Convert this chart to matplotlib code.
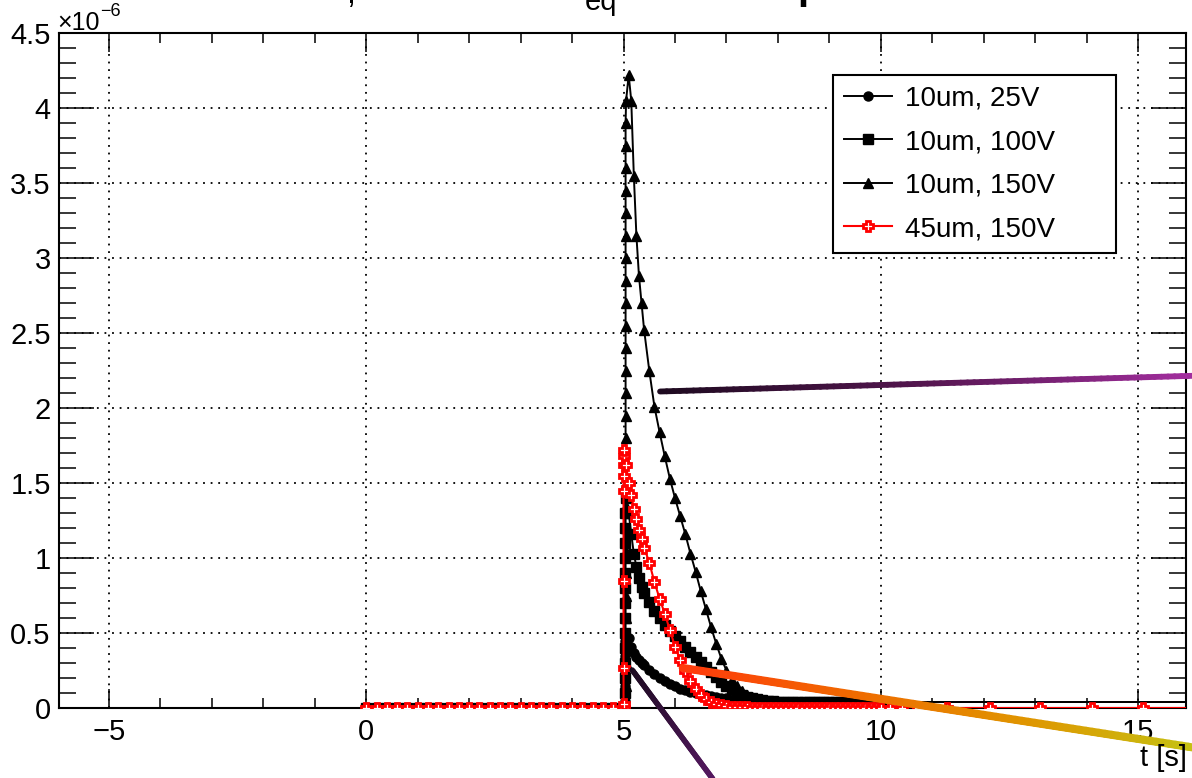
import numpy as np
import matplotlib
matplotlib.use('Agg')
import matplotlib.pyplot as plt
from matplotlib.collections import LineCollection
from matplotlib.colors import LinearSegmentedColormap
from matplotlib.ticker import MultipleLocator, FuncFormatter

plt.rcParams['font.family'] = ['Liberation Sans', 'DejaVu Sans']

# ---- data (current in units of 1e-6) ----
labels = ['10um, 25V', '10um, 100V', '10um, 150V', '45um, 150V']

# before the pulse: all series sit at zero
t_pre = [0.0, 0.2, 0.4, 0.6, 0.8, 1.0, 1.2, 1.4, 1.6, 1.8, 2.0, 2.2, 2.4,
         2.6, 2.8, 3.0, 3.2, 3.4, 3.6, 3.8, 4.0, 4.2, 4.4, 4.6, 4.8, 5.0]

# rising edge (points stacked at the switch-on time)
rise_t = [5.02, 5.02, 5.04, 5.0]
rise_25 = [0.05, 0.1, 0.15, 0.2, 0.25, 0.3, 0.35, 0.4, 0.45]
rise_100 = [0.1, 0.2, 0.3, 0.4, 0.5, 0.6, 0.7, 0.8, 0.9, 1.0, 1.1, 1.2, 1.3]
rise_150 = [0.15, 0.3, 0.45, 0.6, 0.75, 0.9, 1.05, 1.2, 1.35, 1.5, 1.65, 1.8,
            1.95, 2.1, 2.25, 2.4, 2.55, 2.7, 2.85, 3.0, 3.15, 3.3, 3.45, 3.6,
            3.75, 3.9]
rise_45 = [0.03, 0.27, 0.85, 1.45, 1.55, 1.62, 1.68, 1.72]

# decay after the pulse
t_dec = [5.05, 5.1, 5.15, 5.2, 5.25, 5.3, 5.35, 5.4, 5.5, 5.6, 5.7, 5.8, 5.9,
         6.0, 6.1, 6.2, 6.3, 6.4, 6.5, 6.6, 6.7, 6.8, 6.9, 7.0, 7.1, 7.2, 7.3,
         7.4, 7.5, 7.6, 7.7, 7.8, 7.9, 8.0,
         8.1, 8.2, 8.3, 8.4, 8.5, 8.6, 8.7, 8.8, 8.9, 9.0, 9.1, 9.2, 9.3, 9.4,
         9.5, 9.6, 9.7, 9.8, 9.9, 10.0]
dec_25 = [0.46, 0.47, 0.41, 0.37, 0.34, 0.32, 0.30, 0.285, 0.255, 0.225, 0.20,
          0.18, 0.16, 0.145, 0.13, 0.118, 0.107, 0.098, 0.09, 0.085, 0.08,
          0.075, 0.07, 0.066, 0.062, 0.058, 0.055, 0.052, 0.05, 0.048, 0.046,
          0.045, 0.044, 0.043] + [0.04] * 20
dec_100 = [1.40, 1.30, 1.16, 1.03, 0.94, 0.87, 0.81, 0.77, 0.71, 0.65, 0.60,
           0.555, 0.515, 0.48, 0.445, 0.41, 0.375, 0.34, 0.31, 0.275, 0.24,
           0.21, 0.175, 0.148, 0.125, 0.105, 0.088, 0.075, 0.065, 0.057,
           0.052, 0.048, 0.045, 0.043] + [0.04] * 20
dec_150 = [4.05, 4.22, 4.05, 3.55, 3.15, 2.88, 2.70, 2.52, 2.25, 2.01, 1.84,
           1.68, 1.53, 1.40, 1.28, 1.16, 1.03, 0.91, 0.78, 0.66, 0.54, 0.43,
           0.33, 0.25, 0.19, 0.145, 0.115, 0.09, 0.075, 0.063, 0.055, 0.05,
           0.046, 0.043] + [0.04] * 20
dec_45 = [1.62, 1.50, 1.42, 1.33, 1.26, 1.19, 1.13, 1.07, 0.97, 0.84, 0.73,
          0.63, 0.52, 0.41, 0.32, 0.25, 0.18, 0.13, 0.09, 0.06, 0.04, 0.028,
          0.02, 0.014, 0.01, 0.007, 0.005, 0.004, 0.003, 0.002, 0.001, 0.001,
          0.001, 0.001] + [0.0] * 20

# long tail, sparse time steps
t_tail = [10.17, 10.41, 10.72, 11.28, 12.12, 13.09, 14.1, 15.09, 16.1]
tail_black = 0.04
tail_red = 0.0

# overlay strokes drawn on top of the picture (t, value)
strokeA_t, strokeA_v = [5.71, 16.1], [2.11, 2.215]
strokeB_t, strokeB_v = [6.15, 16.1], [0.267, -0.265]
strokeC_t, strokeC_v = [5.17, 6.9], [0.253, -0.55]


def build(rt, rise, dec, tail):
    t = t_pre + [rt] * len(rise) + t_dec + t_tail
    v = [0.0] * len(t_pre) + rise + dec + [tail] * len(t_tail)
    return t, v


W, H = 1192, 778
fig = plt.figure(figsize=(W / 100, H / 100), dpi=100)
ax = fig.add_axes([59 / W, 70 / H, 1127 / W, 675 / H])

series = [
    (rise_t[0], rise_25, dec_25, tail_black, 'black', 'o', 6.5),
    (rise_t[1], rise_100, dec_100, tail_black, 'black', 's', 6.5),
    (rise_t[2], rise_150, dec_150, tail_black, 'black', '^', 6.5),
]
handles = []
for rt, rise, dec, tail, col, mk, ms in series:
    t, v = build(rt, rise, dec, tail)
    n_mark = len(t) - len(t_tail)
    h, = ax.plot(t, v, color=col, lw=1.4, marker=mk, ms=ms, mfc=col, mec=col,
                 markevery=slice(0, n_mark), zorder=3)
    handles.append(h)

t, v = build(rise_t[3], rise_45, dec_45, tail_red)
h, = ax.plot(t, v, color='red', lw=1.5, marker='P', ms=7.5, mfc='white',
             mec='red', mew=2.0, zorder=4)
handles.append(h)

ax.set_xlim(-5.97, 15.93)
ax.set_ylim(0, 4.5)
ax.xaxis.set_major_locator(MultipleLocator(5))
ax.xaxis.set_minor_locator(MultipleLocator(1))
ax.yaxis.set_major_locator(MultipleLocator(0.5))
ax.yaxis.set_minor_locator(MultipleLocator(0.1))
ax.yaxis.set_major_formatter(FuncFormatter(lambda y, p: f'{y:g}'))
ax.xaxis.set_major_formatter(FuncFormatter(lambda x, p: f'{x:g}'.replace('-', '\u2212')))

ax.tick_params(axis='both', which='both', direction='in', top=True, right=True,
               width=1.1, color='black')
ax.tick_params(axis='x', which='major', length=14, labelsize=21, pad=7)
ax.tick_params(axis='x', which='minor', length=7)
ax.tick_params(axis='y', which='major', length=25, labelsize=21, pad=6)
ax.tick_params(axis='y', which='minor', length=12.5)
for s in ax.spines.values():
    s.set_linewidth(1.5)
ax.grid(True, which='major', color='black', linestyle=(0, (1, 3.2)), lw=1.3)
ax.set_axisbelow(False)

leg = ax.legend(handles, labels, loc='upper left',
                bbox_to_anchor=(0.6868, 0.6889, 0.2511, 0.2489), mode='expand',
                borderaxespad=0, fontsize=20, numpoints=1, handlelength=1.75,
                handletextpad=0.45, labelspacing=0.63, borderpad=0.38,
                fancybox=False, framealpha=1, edgecolor='black')
leg.get_frame().set_linewidth(1.5)
leg.set_zorder(6)


def stroke(ts, vs, colors, lw):
    n = 80
    tt = np.linspace(ts[0], ts[1], n + 1)
    vv = np.linspace(vs[0], vs[1], n + 1)
    pts = np.column_stack([tt, vv]).reshape(-1, 1, 2)
    segs = np.concatenate([pts[:-1], pts[1:]], axis=1)
    cmap = LinearSegmentedColormap.from_list('s', colors)
    lc = LineCollection(segs, colors=cmap(np.linspace(0, 1, n)), linewidths=lw,
                        capstyle='round', clip_on=False, zorder=10)
    ax.add_collection(lc)


stroke(strokeA_t, strokeA_v, ['#1e0a20', '#551650', '#a22e9e'], 4.2)
stroke(strokeB_t, strokeB_v, ['#ff3a0c', '#f06a00', '#e09400', '#c6c012'], 5.8)
stroke(strokeC_t, strokeC_v, ['#1c0a20', '#5a1a66'], 4.0)

# axis annotations
fig.text(57 / W, 1 - 30 / H, '\u00d710', fontsize=18, ha='left', va='baseline')
fig.text(100 / W, 1 - 16 / H, '\u22126', fontsize=13, ha='left', va='baseline')
fig.text(1187 / W, 1 - 758 / H, 't [s]', fontsize=21, ha='right', va='center')

# title, mostly cut off by the top edge (as in the reference)
fig.text(346 / W, 1 - 3 / H, ',', fontsize=23, ha='left', va='baseline')
fig.text(585 / W, 1 - 10 / H, 'eq', fontsize=21, ha='left', va='baseline')
fig.text(797 / W, 1 + 1 / H, 'p', fontsize=29, fontweight='bold', ha='left',
         va='baseline')

fig.savefig('out.png', dpi=100)
